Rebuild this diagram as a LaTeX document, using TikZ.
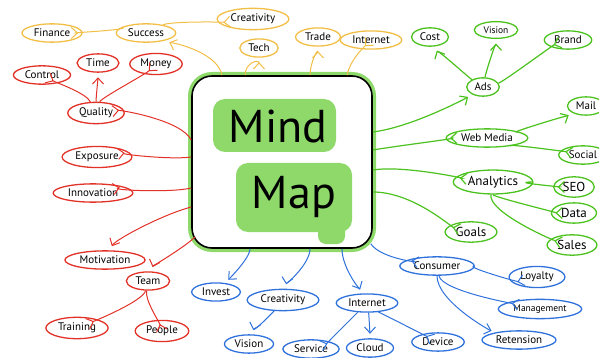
\documentclass[tikz,border=0pt]{standalone}
\usepackage{fontspec}
\setmainfont{PT Sans}
\usetikzlibrary{arrows.meta,shapes.geometric,calc}
\definecolor{mmorange}{RGB}{242,190,70}
\definecolor{mmred}{RGB}{226,50,40}
\definecolor{mmblue}{RGB}{47,114,220}
\definecolor{mmgreen}{RGB}{76,194,30}
\definecolor{mmlight}{RGB}{142,217,106}

\begin{document}
\begin{tikzpicture}[x=1pt,y=-1pt,
  bub/.style={ellipse,draw,line width=1.3pt,inner xsep=3pt,inner ysep=2.5pt,
              font=\fontsize{11}{13}\selectfont,text=black},
  obub/.style={bub,draw=mmorange},
  rbub/.style={bub,draw=mmred},
  bbub/.style={bub,draw=mmblue},
  gbub/.style={bub,draw=mmgreen},
  mmbox/.style={rectangle,rounded corners=20pt,draw=black,line width=1.6pt,fill=white,
                preaction={draw=mmlight,line width=8pt},
                minimum width=180pt,minimum height=172pt},
  mmtext/.style={font=\fontsize{46}{46}\selectfont,text=black},
  arr/.style={-{Straight Barb[length=6pt,width=11pt]},line width=1pt,shorten >=4.5pt},
  oarr/.style={arr,draw=mmorange},
  rarr/.style={arr,draw=mmred},
  barr/.style={arr,draw=mmblue},
  garr/.style={arr,draw=mmgreen,line width=1.2pt},
]
\useasboundingbox (0,0) rectangle (599,358);

%% Centre box
\node[mmbox] (mm) at (282,162) {};
\fill[mmlight,rounded corners=12pt] (213,99) rectangle (336,152);
\fill[mmlight,rounded corners=12pt] (236,163) rectangle (352,232);
\fill[mmlight,rounded corners=8pt] (318,220) rectangle (345,244);
\node[mmtext] (mind) at (278,126) {Mind};
\node[mmtext] (map)  at (294,197) {Map};

%% Orange branch (top)
\node[obub] (fin)   at (52,33)  {Finance};
\node[obub] (succ)  at (146,33) {Success};
\node[obub] (creat) at (253,19) {Creativity};
\node[obub] (tech)  at (259,48) {Tech};
\node[obub] (trade) at (318,37) {Trade};
\node[obub] (inet)  at (371,40) {Internet};

\draw[oarr] ([xshift=-60pt]mm.north) .. controls +(-5,-25) and +(20,8) .. (succ);
\draw[oarr] (succ) .. controls +(25,-12) and +(-25,3) .. (creat);
\draw[oarr] (succ) .. controls +(-12,-3) and +(12,0) .. (fin);
\draw[oarr] ([xshift=-37pt]mm.north) .. controls +(0,-12) and +(0,10) .. (tech);
\draw[oarr] ([xshift=28pt]mm.north) .. controls +(0,-12) and +(0,10) .. (trade);
\draw[oarr] ([xshift=65pt]mm.north) .. controls +(3,-15) and +(-8,8) .. (inet);

%% Red branch (left)
\node[rbub] (ctrl)   at (42,75)   {Control};
\node[rbub] (time)   at (98,63)   {Time};
\node[rbub] (money)  at (156,64)  {Money};
\node[rbub] (qual)   at (96,113)  {Quality};
\node[rbub] (expo)   at (97,157)  {Exposure};
\node[rbub] (innov)  at (93,193)  {Innovation};
\node[rbub] (motiv)  at (105,260) {Motivation};
\node[rbub] (team)   at (148,281) {Team};
\node[rbub] (train)  at (77,328)  {Training};
\node[rbub] (people) at (162,331) {People};

\draw[rarr] ([yshift=22pt]mm.west) .. controls +(-10,-20) and +(25,-3) .. (qual);
\draw[rarr] (qual) .. controls +(-10,-20) and +(15,8) .. (ctrl);
\draw[rarr] (qual) .. controls +(0,-15) and +(0,15) .. (time);
\draw[rarr] (qual) .. controls +(5,-15) and +(-10,10) .. (money);
\draw[rarr] ([yshift=5pt]mm.west) .. controls +(-20,3) and +(20,-3) .. (expo);
\draw[rarr] ([yshift=-26pt]mm.west) .. controls +(-20,5) and +(15,-3) .. (innov);
\draw[rarr] ([yshift=-45pt]mm.west) .. controls +(-30,8) and +(10,-20) .. (motiv);
\draw[rarr] ([xshift=4pt,yshift=12pt]mm.south west) .. controls +(-10,10) and +(5,-15) .. (team);
\draw[rarr] (team) .. controls +(-5,20) and +(20,-8) .. (train);
\draw[rarr] (team) .. controls +(-3,20) and +(-3,-10) .. (people);

%% Blue branch (bottom)
\node[bbub] (invest) at (216,292) {Invest};
\node[bbub] (bcreat) at (283,300) {Creativity};
\node[bbub] (binet)  at (367,303) {Internet};
\node[bbub] (bvis)   at (249,344) {Vision};
\node[bbub] (serv)   at (311,349) {Service};
\node[bbub] (cloud)  at (370,348) {Cloud};
\node[bbub] (dev)    at (438,342) {Device};
\node[bbub] (cons)   at (437,266) {Consumer};
\node[bbub] (loyal)  at (537,277) {Loyalty};
\node[bbub,font=\fontsize{9.5}{11}\selectfont] (mgmt) at (540,309) {Management};
\node[bbub] (ret)    at (519,340) {Retension};

\draw[barr] ([xshift=-32pt]mm.south) .. controls +(0,10) and +(10,-10) .. (invest);
\draw[barr] ([xshift=28pt]mm.south) .. controls +(0,15) and +(3,-15) .. (bcreat);
\draw[barr] ([xshift=60pt]mm.south) .. controls +(0,20) and +(-5,-10) .. (binet);
\draw[barr] ([xshift=-2pt,yshift=5pt]mm.south east) .. controls +(10,15) and +(-15,-3) .. (cons);
\draw[barr] (bcreat) .. controls +(-8,10) and +(3,-10) .. (bvis);
\draw[barr] (binet) .. controls +(-10,10) and +(15,-5) .. (serv);
\draw[barr] (binet) .. controls +(2,12) and +(0,-10) .. (cloud);
\draw[barr] (binet) .. controls +(10,8) and +(-10,-5) .. (dev);
\draw[barr] (cons) .. controls +(25,0) and +(-20,5) .. (loyal);
\draw[barr] (cons) .. controls +(5,25) and +(-25,-5) .. (mgmt);
\draw[barr] (cons) .. controls +(0,35) and +(-30,-10) .. (ret);

%% Green branch (right)
\node[gbub] (cost)   at (430,37)  {Cost};
\node[gbub,font=\fontsize{9.5}{11}\selectfont] (gvis) at (496,30) {Vision};
\node[gbub] (brand)  at (568,40)  {Brand};
\node[gbub] (ads)    at (483,87)  {Ads};
\node[gbub] (mail)   at (586,106) {Mail};
\node[gbub] (web)    at (487,138) {Web Media};
\node[gbub] (social) at (583,155) {Social};
\node[gbub,font=\fontsize{13}{15}\selectfont] (ana)   at (493,182) {Analytics};
\node[gbub,font=\fontsize{13}{15}\selectfont] (seo)   at (574,187) {SEO};
\node[gbub,font=\fontsize{13}{15}\selectfont] (data)  at (574,213) {Data};
\node[gbub,font=\fontsize{13}{15}\selectfont] (goals) at (471,232) {Goals};
\node[gbub,font=\fontsize{13}{15}\selectfont] (sales) at (572,245) {Sales};

\draw[garr] ([yshift=30pt]mm.east) .. controls +(40,-5) and +(-15,10) .. (ads);
\draw[garr] ([yshift=12pt]mm.east) .. controls +(30,-5) and +(-25,0) .. (web);
\draw[garr] ([yshift=-8pt]mm.east) .. controls +(30,-5) and +(-25,-3) .. (ana);
\draw[garr] ([yshift=-30pt]mm.east) .. controls +(40,0) and +(-20,-5) .. (goals);
\draw[garr] (ads) .. controls +(-15,-10) and +(5,10) .. (cost);
\draw[garr] (ads) .. controls +(3,-15) and +(0,10) .. (gvis);
\draw[garr] (ads) .. controls +(20,-5) and +(-15,5) .. (brand);
\draw[garr] (web) .. controls +(15,-3) and +(-15,8) .. (mail);
\draw[garr] (web) .. controls +(15,5) and +(-15,-3) .. (social);
\draw[garr] (ana) .. controls +(12,0) and +(-10,0) .. (seo);
\draw[garr] (ana) .. controls +(0,15) and +(-15,0) .. (data);
\draw[garr] (ana) .. controls +(-5,30) and +(-20,-5) .. (sales);

\end{tikzpicture}
\end{document}
